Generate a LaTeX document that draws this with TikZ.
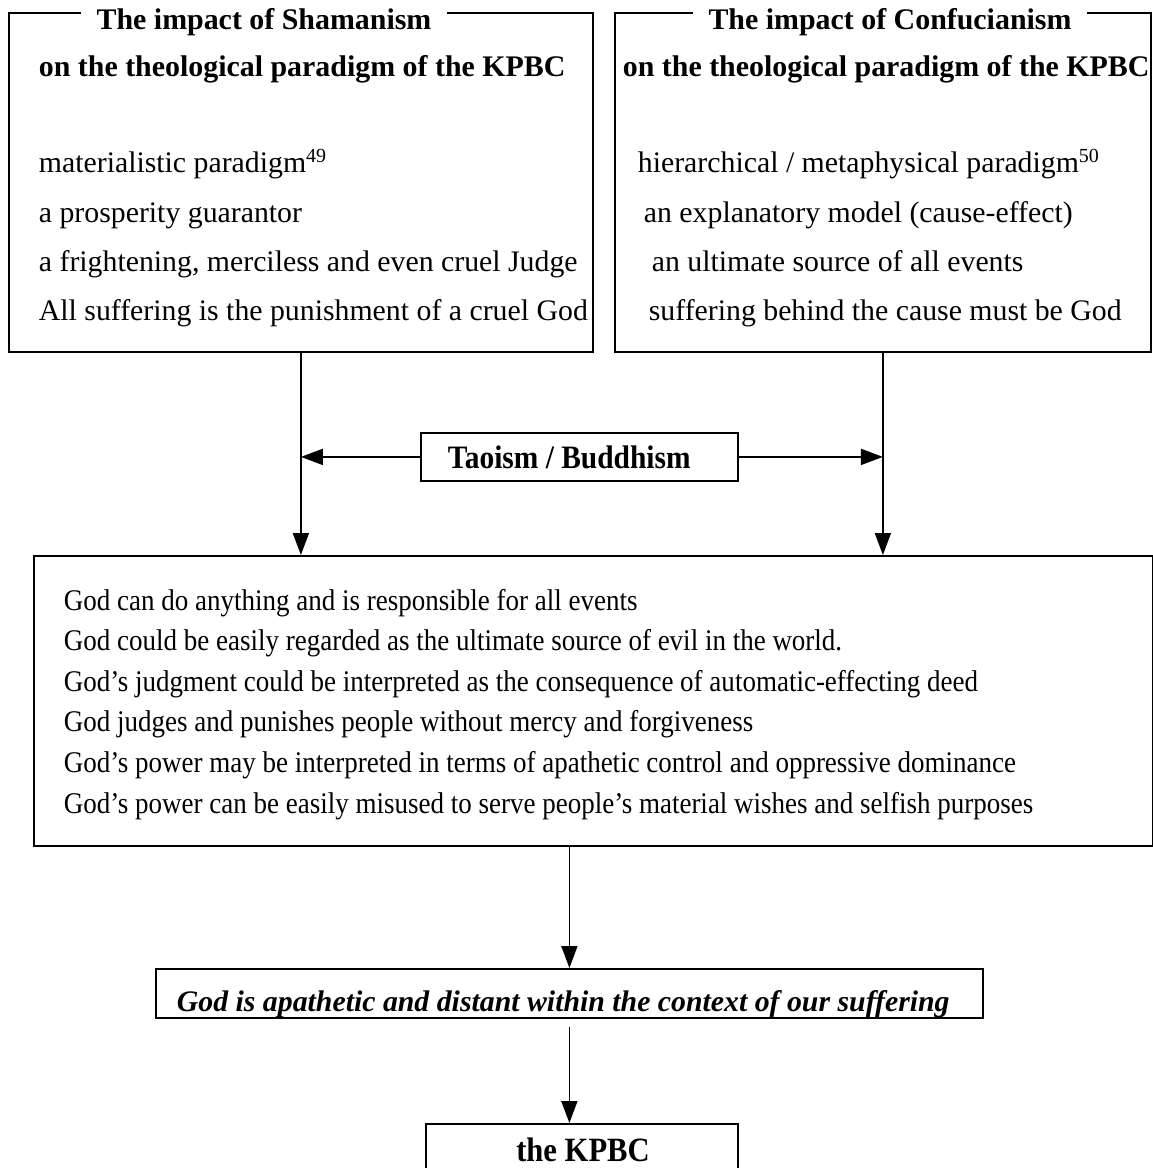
\documentclass[tikz,border=0pt]{standalone}
\usepackage{fontspec}
\setmainfont{Liberation Serif}
\newfontfamily\condf[FakeStretch=0.9]{Liberation Serif}
\usetikzlibrary{arrows.meta}
\begin{document}
\begin{tikzpicture}[x=1pt,y=1pt,line width=1.8pt,
  box/.style={draw,line width=1.8pt,inner sep=0pt,anchor=north west},
  txt/.style={anchor=base west,inner sep=0pt,font=\fontsize{29.8}{34}\selectfont},
  boldt/.style={anchor=base west,inner sep=0pt,font=\fontsize{29.9}{34}\selectfont\bfseries},
  titlef/.style={anchor=base,fill=white,inner xsep=16pt,inner ysep=3pt,font=\fontsize{29.9}{34}\selectfont\bfseries},
  bodyt/.style={anchor=base west,inner sep=0pt,font=\condf\fontsize{30}{34}\selectfont},
  taof/.style={anchor=base west,inner sep=0pt,font=\condf\fontsize{32.7}{36}\selectfont\bfseries},
  itf/.style={anchor=base west,inner sep=0pt,font=\fontsize{29.8}{34}\selectfont\bfseries\itshape},
  kf/.style={anchor=base,inner sep=0pt,font=\condf\fontsize{34}{38}\selectfont\bfseries},
  arr/.style={line width=1.8pt,-{Triangle[length=22pt,width=16pt]}}]
\useasboundingbox (0,0) rectangle (1153,-1168);

% top boxes
\node[box,minimum width=584pt,minimum height=339pt] (lbox) at (8,-12) {};
\node[box,minimum width=536pt,minimum height=339pt] (rbox) at (614,-12) {};
\node[titlef] (lt1) at (264,-29) {The impact of Shamanism};
\node[boldt] (lt2) at (38,-76) {on the theological paradigm of the KPBC};
\node[txt] (la) at (38,-172) {materialistic paradigm\textsuperscript{\fontsize{20}{22}\selectfont 49}};
\node[txt] (lb) at (38,-222) {a prosperity guarantor};
\node[txt] (lc) at (38,-271) {a frightening, merciless and even cruel Judge};
\node[txt] (ld) at (38,-320) {All suffering is the punishment of a cruel God};

\node[titlef] (rt1) at (890,-29) {The impact of Confucianism};
\node[boldt] (rt2) at (622,-76) {on the theological paradigm of the KPBC};
\node[txt] (ra) at (637,-172) {hierarchical / metaphysical paradigm\textsuperscript{\fontsize{20}{22}\selectfont 50}};
\node[txt] (rb) at (643,-222) {an explanatory model (cause-effect)};
\node[txt] (rc) at (651,-271) {an ultimate source of all events};
\node[txt] (rd) at (648,-320) {suffering behind the cause must be God};

% Taoism / Buddhism
\node[box,minimum width=317pt,minimum height=48pt] (tao) at (420,-432) {};
\node[taof] (taot) at (447,-468) {Taoism / Buddhism};

% big box
\node[box,minimum width=1119pt,minimum height=290pt] (big) at (33,-555) {};
\node[bodyt] (b1) at (63,-610) {God can do anything and is responsible for all events};
\node[bodyt] (b2) at (63,-650) {God could be easily regarded as the ultimate source of evil in the world.};
\node[bodyt] (b3) at (63,-691) {God’s judgment could be interpreted as the consequence of automatic-effecting deed};
\node[bodyt] (b4) at (63,-731) {God judges and punishes people without mercy and forgiveness};
\node[bodyt] (b5) at (63,-772) {God’s power may be interpreted in terms of apathetic control and oppressive dominance};
\node[bodyt] (b6) at (63,-813) {God’s power can be easily misused to serve people’s material wishes and selfish purposes};

% italic box
\node[box,minimum width=827pt,minimum height=49pt] (ital) at (155,-968) {};
\node[itf] (italt) at (176,-1011) {God is apathetic and distant within the context of our suffering};

% KPBC
\node[box,minimum width=312pt,minimum height=60pt] (kpbc) at (425,-1123) {};
\node[kf] (kpbct) at (583,-1161) {the KPBC};

% connectors
\draw[arr] (lbox.south) -- (lbox.south |- big.north);
\draw[arr] (rbox.south) -- (rbox.south |- big.north);
\draw[arr] (tao.west) -- (tao.west -| lbox.south);
\draw[arr] (tao.east) -- (tao.east -| rbox.south);
\draw[arr] (big.south -| ital.north) -- (ital.north);
\draw[arr] ([yshift=-8pt]ital.south) -- (ital.south |- kpbc.north);
\end{tikzpicture}
\end{document}
